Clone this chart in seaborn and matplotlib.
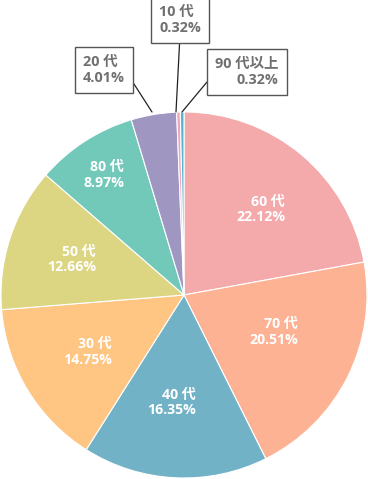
import numpy as np
import seaborn as sns
import matplotlib.pyplot as plt

sns.set_theme(style="white")
plt.rcParams["font.family"] = ["Open Sans", "Noto Sans CJK JP", "DejaVu Sans"]

# Data (clockwise from top)
ages = ["60 代", "70 代", "40 代", "30 代", "50 代", "80 代", "20 代", "10 代", "90 代以上"]
shares = [22.12, 20.51, 16.35, 14.75, 12.66, 8.97, 4.01, 0.32, 0.32]
colors = ["#F4A9AB", "#FDB293", "#72B2C6", "#FEC583", "#DCD581",
          "#72C9BA", "#9F97C2", "#EBA7C2", "#5BB3CA"]

fig = plt.figure(figsize=(3.68, 4.79), dpi=100)
ax = fig.add_axes([0, 0, 1, 1])
R = 183.0

wedges, _ = ax.pie(shares, colors=colors, startangle=90, counterclock=False,
                   radius=1.0, wedgeprops=dict(edgecolor="white", linewidth=0.8))

# pie() sets its own limits, so fix them afterwards
ax.set_xlim(-184 / R, 184 / R)
ax.set_ylim(-184 / R, 295 / R)
ax.set_aspect("equal")
ax.axis("off")

# inside labels: radius along mid-angle plus a small nudge in pixels
inner_r = [0.6, 0.62, 0.6, 0.6, 0.62, 0.78]
nudge = [(7, 1), (-11, 14), (-6, 2), (-2, 0), (-4, 0), (-6, 0)]
for i in range(6):
    w = wedges[i]
    ang = np.deg2rad((w.theta1 + w.theta2) / 2)
    x = inner_r[i] * np.cos(ang) + 0.13 + nudge[i][0] / R
    y = inner_r[i] * np.sin(ang) + nudge[i][1] / R
    ax.text(x, y, f"{ages[i]}\n{shares[i]:.2f}%", color="white",
            fontsize=10.2, fontweight="bold", ha="right", va="center",
            multialignment="right", linespacing=1.15)

# outside labels with boxes
box = dict(boxstyle="square,pad=0.55", fc="white", ec="#555555", lw=1.0)
outside = [
    # idx, box centre (px), line end (px), text align, line start on box
    (6, (104, 70), (152, 112), "left", (1, 0.5)),
    (7, (180, 20), (176, 112), "left", (0.5, 0)),
    (8, (247, 72), (182, 112), "right", (0, 0.5)),
]
for i, (bx, by), (lx, ly), ma, rel in outside:
    ax.annotate(f"{ages[i]}\n{shares[i]:.2f}%",
                xy=((lx - 184) / R, (295 - ly) / R),
                xytext=((bx - 184) / R, (295 - by) / R),
                color="#707070", fontsize=10.4, fontweight="bold",
                ha="center", va="center", multialignment=ma, linespacing=1.15,
                bbox=box,
                arrowprops=dict(arrowstyle="-", color="#222222", lw=0.9,
                                shrinkA=0, shrinkB=0, relpos=rel))

fig.savefig("out.png", dpi=100)
